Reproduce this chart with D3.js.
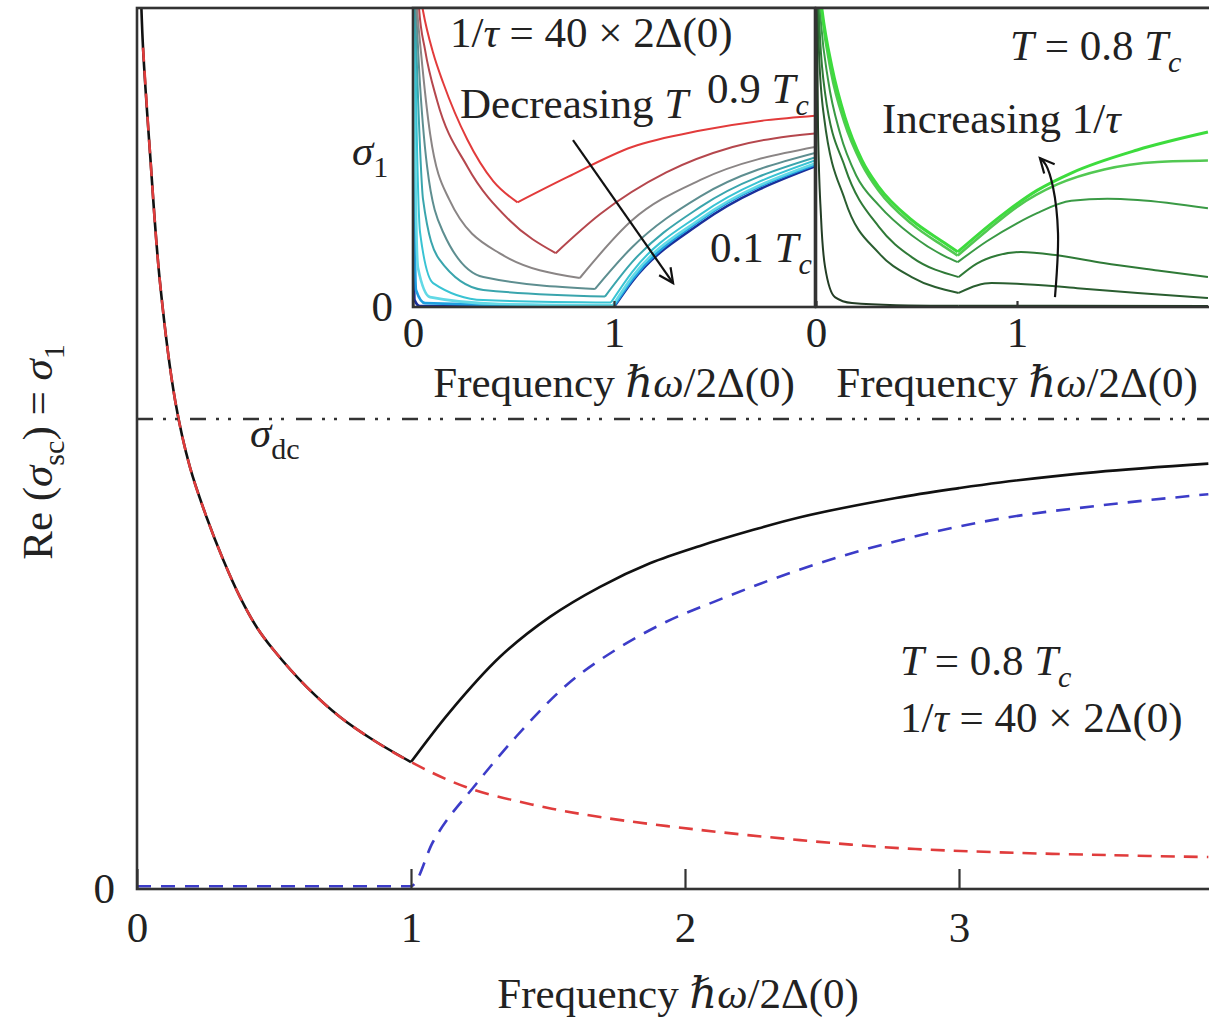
<!DOCTYPE html>
<html>
<head>
<meta charset="utf-8">
<script src="https://cdn.jsdelivr.net/npm/d3@7"></script>
<style>
  html, body { margin: 0; padding: 0; background: #fff; }
  svg { display: block; }
  text { font-family: "Liberation Serif", "DejaVu Serif", serif; fill: #222; }
</style>
</head>
<body>
<svg id="chart" width="1209" height="1021"></svg>
<script>
// ---- main panel: T = 0.8 Tc, 1/tau = 40 x 2Delta(0)  (y in units of sigma_dc)
const mainTicks = [0, 1, 2, 3];
const sigmaDc = 1.0;

const totalLowX = [0.012, 0.022, 0.047, 0.084, 0.139, 0.193, 0.254, 0.315, 0.376, 0.437, 0.498, 0.619, 0.741, 0.862, 1.0];
const totalLowY = [1.95, 1.79, 1.57, 1.29, 1.040, 0.898, 0.791, 0.700, 0.621, 0.557, 0.509, 0.430, 0.366, 0.317, 0.270];
const totalHighX = [1.0, 1.142, 1.325, 1.507, 1.69, 1.872, 2.055, 2.237, 2.42, 2.77, 3.0, 3.15, 3.5, 3.91];
const totalHighY = [0.270, 0.377, 0.494, 0.579, 0.643, 0.693, 0.730, 0.762, 0.791, 0.832, 0.853, 0.865, 0.887, 0.905];

const intraX = [0.022, 0.047, 0.084, 0.139, 0.193, 0.254, 0.315, 0.376, 0.437, 0.498, 0.619, 0.741, 0.862, 1.0, 1.2, 1.44, 1.69, 2.05, 2.42, 2.78, 3.15, 3.55, 3.91];
const intraY = [1.79, 1.57, 1.29, 1.040, 0.898, 0.791, 0.700, 0.621, 0.557, 0.509, 0.430, 0.366, 0.317, 0.270, 0.217, 0.180, 0.153, 0.126, 0.104, 0.087, 0.078, 0.072, 0.068];

const interX = [0, 1.0, 1.08, 1.24, 1.385, 1.57, 1.75, 1.93, 2.11, 2.30, 2.42, 2.77, 3.15, 3.5, 3.91];
const interY = [0.006, 0.006, 0.10, 0.225, 0.325, 0.435, 0.51, 0.568, 0.612, 0.655, 0.68, 0.74, 0.788, 0.815, 0.84];

// ---- left inset: different temperatures
const insetTicks = [0, 1];
const tempLabels = [0.9, 0.8, 0.7, 0.6, 0.5, 0.4, 0.3, 0.2, 0.1];
const tempLowX = [
  [0.035, 0.05, 0.10, 0.15, 0.27, 0.40, 0.52],
  [0.025, 0.03, 0.06, 0.12, 0.27, 0.48, 0.71],
  [0.015, 0.02, 0.04, 0.085, 0.18, 0.43, 0.83],
  [0.01, 0.015, 0.03, 0.07, 0.15, 0.35, 0.905],
  [0.007, 0.01, 0.025, 0.05, 0.13, 0.35, 0.955],
  [0.005, 0.008, 0.018, 0.035, 0.10, 0.35, 0.985],
  [0.004, 0.006, 0.012, 0.025, 0.085, 0.43, 0.995],
  [0.003, 0.004, 0.008, 0.015, 0.06, 1.0],
  [0.001, 0.002, 0.004, 0.008, 0.035, 1.0]
];
const tempLowY = [
  [1.05, 0.99, 0.85, 0.75, 0.56, 0.42, 0.35],
  [1.05, 1.0, 0.86, 0.69, 0.47, 0.29, 0.18],
  [1.05, 1.0, 0.85, 0.58, 0.36, 0.18, 0.097],
  [1.05, 1.0, 0.80, 0.47, 0.25, 0.10, 0.06],
  [1.05, 1.0, 0.70, 0.36, 0.16, 0.057, 0.035],
  [1.05, 1.0, 0.60, 0.25, 0.08, 0.023, 0.015],
  [1.05, 1.0, 0.45, 0.13, 0.033, 0.01, 0.006],
  [1.05, 1.0, 0.30, 0.057, 0.013, 0.003],
  [1.05, 1.0, 0.20, 0.023, 0.003, 0.0]
];
const tempHighX = [
  [0.52, 0.77, 1.09, 1.43, 1.76, 2.0],
  [0.71, 0.93, 1.26, 1.59, 2.0],
  [0.83, 1.09, 1.43, 2.0],
  [0.905, 1.09, 1.43, 2.0],
  [0.955, 1.09, 1.43, 2.0],
  [0.985, 1.09, 1.43, 2.0],
  [0.995, 1.09, 1.43, 2.0],
  [1.0, 1.09, 1.43, 2.0],
  [1.0, 1.09, 1.43, 2.0]
];
const tempHighY = [
  [0.35, 0.435, 0.535, 0.59, 0.625, 0.64],
  [0.18, 0.31, 0.45, 0.535, 0.58],
  [0.097, 0.29, 0.425, 0.535],
  [0.06, 0.20, 0.37, 0.515],
  [0.035, 0.15, 0.335, 0.50],
  [0.015, 0.117, 0.31, 0.49],
  [0.006, 0.10, 0.295, 0.48],
  [0.003, 0.09, 0.29, 0.475],
  [0.0, 0.085, 0.28, 0.47]
];

// ---- right inset: T = 0.8 Tc, different scattering rates
const rateLowX = [
  [0.02, 0.03, 0.079, 0.144, 0.228, 0.313, 0.476, 0.64, 0.705],
  [0.02, 0.03, 0.075, 0.14, 0.228, 0.313, 0.476, 0.64, 0.705],
  [0.015, 0.025, 0.06, 0.12, 0.2, 0.313, 0.476, 0.64, 0.705],
  [0.01, 0.02, 0.045, 0.144, 0.313, 0.476, 0.71],
  [0.008, 0.015, 0.04, 0.144, 0.313, 0.476, 0.71],
  [0.004, 0.01, 0.025, 0.045, 0.094, 0.179, 0.4, 0.71]
];
const rateLowY = [
  [1.05, 0.993, 0.803, 0.635, 0.492, 0.401, 0.291, 0.214, 0.184],
  [1.05, 0.98, 0.785, 0.62, 0.478, 0.388, 0.278, 0.201, 0.172],
  [1.05, 0.95, 0.76, 0.58, 0.44, 0.34, 0.24, 0.17, 0.15],
  [1.05, 0.9, 0.716, 0.468, 0.268, 0.167, 0.10],
  [1.05, 0.85, 0.635, 0.358, 0.18, 0.10, 0.047],
  [1.05, 0.6, 0.3, 0.134, 0.033, 0.013, 0.006, 0.004]
];
const rateHighX = [
  [0.705, 0.938, 1.10, 1.27, 1.598, 1.95],
  [0.705, 0.85, 1.0, 1.2, 1.434, 1.7, 1.95],
  [0.705, 0.85, 1.0, 1.1, 1.27, 1.45, 1.6, 1.95],
  [0.71, 0.8, 0.9, 1.02, 1.2, 1.43, 1.7, 1.95],
  [0.71, 0.8, 0.873, 1.0, 1.3, 1.6, 1.95],
  [0.71, 1.2, 1.95]
];
const rateHighY = [
  [0.184, 0.314, 0.39, 0.448, 0.525, 0.585],
  [0.172, 0.255, 0.335, 0.41, 0.46, 0.485, 0.49],
  [0.15, 0.22, 0.28, 0.314, 0.355, 0.362, 0.358, 0.33],
  [0.10, 0.145, 0.172, 0.184, 0.173, 0.147, 0.122, 0.10],
  [0.047, 0.072, 0.08, 0.078, 0.063, 0.047, 0.03],
  [0.004, 0.004, 0.003]
];

// arrows (inset data coordinates)
const tempArrowX = [0.796, 1.294];
const tempArrowY = [0.558, 0.08];
const rateArrowX = [1.189, 1.204, 1.179, 1.144, 1.114];
const rateArrowY = [0.033, 0.247, 0.401, 0.475, 0.498];

// ---- styles
const tempColors = ['#e23b3b', '#b5474d', '#8a8585', '#5e8e90', '#3aa5ad', '#39c3d3', '#62d9e6', '#1fa0e0', '#1a2f9a'];
const rateColors = ['#3ddc3d', '#52c852', '#3a9a45', '#2f7a37', '#2a5e30', '#233d25'];
const rateWidths = [3, 2.6, 2, 2, 2, 2];
const FS = 43;
const axisColor = '#333';

const svg = d3.select('#chart');
const zip = (xs, ys) => xs.map((x, i) => ({ x, y: ys[i] }));

// scales
const x = d3.scaleLinear([0, 4], [137, 1233]);
const y = d3.scaleLinear([0, 1], [889, 419]);
const xi1 = d3.scaleLinear([0, 2], [413, 815]);
const xi2 = d3.scaleLinear([0, 2], [816, 1218]);
const yi = d3.scaleLinear([0, 1], [307, 8]);

const defs = svg.append('defs');
defs.append('clipPath').attr('id', 'clip-main')
  .append('rect').attr('x', x(0)).attr('y', 8).attr('width', x(4) - x(0)).attr('height', 889 - 8);
defs.append('clipPath').attr('id', 'clip-i1')
  .append('rect').attr('x', xi1(0)).attr('y', yi(1)).attr('width', xi1(2) - xi1(0)).attr('height', yi(0) - yi(1));
defs.append('clipPath').attr('id', 'clip-i2')
  .append('rect').attr('x', xi2(0)).attr('y', yi(1)).attr('width', xi2(2) - xi2(0)).attr('height', yi(0) - yi(1));

// rich text: parts = [[text, italic, sub]]
function rich(g, px, py, parts, { size = FS, anchor = 'start', transform = null } = {}) {
  const t = g.append('text')
    .attr('x', px).attr('y', py)
    .attr('font-size', size)
    .attr('text-anchor', anchor);
  if (transform) t.attr('transform', transform);
  let sub = false;
  parts.forEach(([s, it, isSub]) => {
    const sp = t.append('tspan').text(s).attr('font-style', it ? 'italic' : 'normal');
    if (isSub && !sub) sp.attr('dy', size * 0.28).attr('font-size', size * 0.7);
    else if (!isSub && sub) sp.attr('dy', -size * 0.28);
    else if (isSub) sp.attr('font-size', size * 0.7);
    sub = !!isSub;
  });
  return t;
}

function arrowHead(g, p0, p1, len = 16, spread = 0.45) {
  const ang = Math.atan2(p1[1] - p0[1], p1[0] - p0[0]);
  const a1 = ang + Math.PI - spread, a2 = ang + Math.PI + spread;
  g.append('path')
    .attr('d', `M${p1[0] + len * Math.cos(a1)},${p1[1] + len * Math.sin(a1)}L${p1[0]},${p1[1]}L${p1[0] + len * Math.cos(a2)},${p1[1] + len * Math.sin(a2)}`)
    .attr('fill', 'none').attr('stroke', '#111').attr('stroke-width', 2.2);
}

function styleTicks(axisG) {
  axisG.select('.domain').remove();
  axisG.selectAll('.tick line').attr('stroke', axisColor).attr('stroke-width', 2.2);
  axisG.selectAll('.tick text').attr('font-size', FS).attr('fill', '#222');
  axisG.attr('font-family', null);
}

// ================= main panel =================
const smooth = d3.line().x(d => x(d.x)).y(d => y(d.y)).curve(d3.curveCatmullRom.alpha(0.5));
const mono = d3.line().x(d => x(d.x)).y(d => y(d.y)).curve(d3.curveMonotoneX);
const mainG = svg.append('g').attr('clip-path', 'url(#clip-main)');

mainG.append('path').attr('d', smooth(zip(totalLowX, totalLowY)))
  .attr('fill', 'none').attr('stroke', '#111').attr('stroke-width', 2.6);
mainG.append('path').attr('d', smooth(zip(totalHighX, totalHighY)))
  .attr('fill', 'none').attr('stroke', '#111').attr('stroke-width', 2.6);
mainG.append('path').attr('d', smooth(zip(intraX, intraY)))
  .attr('fill', 'none').attr('stroke', '#e03c3c').attr('stroke-width', 2.6)
  .attr('stroke-dasharray', '14 9');
mainG.append('path').attr('d', mono(zip(interX, interY)))
  .attr('fill', 'none').attr('stroke', '#3c3cc8').attr('stroke-width', 2.6)
  .attr('stroke-dasharray', '14 10');
mainG.append('line')
  .attr('x1', x(0)).attr('x2', x(4)).attr('y1', y(sigmaDc)).attr('y2', y(sigmaDc))
  .attr('stroke', '#333').attr('stroke-width', 2.6)
  .attr('stroke-dasharray', '16 10 3 9 3 12');

// main box + axes
svg.append('rect')
  .attr('x', x(0)).attr('y', 8).attr('width', x(4) - x(0)).attr('height', 889 - 8)
  .attr('fill', 'none').attr('stroke', axisColor).attr('stroke-width', 2.6);

const xAxisG = svg.append('g').attr('transform', `translate(0,${y(0)})`)
  .call(d3.axisBottom(x).tickValues(mainTicks).tickFormat(d3.format('d'))
    .tickSizeInner(-20).tickSizeOuter(0).tickPadding(22));
styleTicks(xAxisG);

const yAxisG = svg.append('g').attr('transform', `translate(${x(0)},0)`)
  .call(d3.axisLeft(y).tickValues([0]).tickFormat(d3.format('d')).tickSize(0).tickPadding(22));
styleTicks(yAxisG);

// main labels
rich(svg, 678, 1008, [['Frequency ', false], ['ℏω', true], ['/2Δ(0)', false]], { anchor: 'middle' });
rich(svg, 0, 0, [['Re (', false], ['σ', true], ['sc', false, true], [') = ', false], ['σ', true], ['1', false, true]],
  { anchor: 'middle', transform: 'translate(52,452) rotate(-90)' });
rich(svg, 250, 447, [['σ', true], ['dc', false, true]]);
rich(svg, 900, 675, [['T', true], [' = 0.8 ', false], ['T', true], ['c', true, true]]);
rich(svg, 900, 732, [['1/', false], ['τ', true], [' = 40 × 2Δ(0)', false]]);

// ================= insets =================
function inset(xs, clipId, lowX, lowY, highX, highY, colors, widths) {
  const g = svg.append('g');
  g.append('rect')
    .attr('x', xs(0)).attr('y', yi(1)).attr('width', xs(2) - xs(0)).attr('height', yi(0) - yi(1))
    .attr('fill', '#fff');
  const line = d3.line().x(d => xs(d.x)).y(d => yi(d.y)).curve(d3.curveMonotoneX);
  const cg = g.append('g').attr('clip-path', `url(#${clipId})`);
  lowX.forEach((lx, i) => {
    const col = colors[i], w = widths[i];
    cg.append('path').attr('d', line(zip(lx, lowY[i])))
      .attr('fill', 'none').attr('stroke', col).attr('stroke-width', w);
    cg.append('path').attr('d', line(zip(highX[i], highY[i])))
      .attr('fill', 'none').attr('stroke', col).attr('stroke-width', w);
  });
  g.append('rect')
    .attr('x', xs(0)).attr('y', yi(1)).attr('width', xs(2) - xs(0)).attr('height', yi(0) - yi(1))
    .attr('fill', 'none').attr('stroke', axisColor).attr('stroke-width', 2.6);
  const ax = g.append('g').attr('transform', `translate(0,${yi(0)})`)
    .call(d3.axisBottom(xs).tickValues(insetTicks).tickFormat(d3.format('d'))
      .tickSizeInner(-6).tickSizeOuter(0).tickPadding(9));
  styleTicks(ax);
  rich(g, (xs(0) + xs(2)) / 2, 397, [['Frequency ', false], ['ℏω', true], ['/2Δ(0)', false]], { anchor: 'middle' });
  return g;
}

// draw high-T last so red sits on top like the original
const order = d3.range(tempLabels.length).reverse();
const g1 = inset(xi1, 'clip-i1',
  order.map(i => tempLowX[i]), order.map(i => tempLowY[i]),
  order.map(i => tempHighX[i]), order.map(i => tempHighY[i]),
  order.map(i => tempColors[i]), order.map(i => (i >= 6 ? 2.6 : 2)));
const rOrder = d3.range(rateColors.length).reverse();
const g2 = inset(xi2, 'clip-i2',
  rOrder.map(i => rateLowX[i]), rOrder.map(i => rateLowY[i]),
  rOrder.map(i => rateHighX[i]), rOrder.map(i => rateHighY[i]),
  rOrder.map(i => rateColors[i]), rOrder.map(i => rateWidths[i]));

// inset y label
const yiAxis = svg.append('g').attr('transform', `translate(${xi1(0)},0)`)
  .call(d3.axisLeft(yi).tickValues([0]).tickFormat(d3.format('d')).tickSize(0).tickPadding(20));
styleTicks(yiAxis);
rich(svg, 352, 165, [['σ', true], ['1', false, true]]);

// inset annotations
rich(g1, 450, 47, [['1/', false], ['τ', true], [' = 40 × 2Δ(0)', false]]);
rich(g1, 707, 103, [['0.9 ', false], ['T', true], ['c', true, true]]);
rich(g1, 460, 118, [['Decreasing ', false], ['T', true]]);
rich(g1, 710, 262, [['0.1 ', false], ['T', true], ['c', true, true]]);
rich(g2, 1010, 60, [['T', true], [' = 0.8 ', false], ['T', true], ['c', true, true]]);
rich(g2, 882, 133, [['Increasing 1/', false], ['τ', true]]);

// arrows
const a1 = zip(tempArrowX, tempArrowY).map(d => [xi1(d.x), yi(d.y)]);
svg.append('line').attr('x1', a1[0][0]).attr('y1', a1[0][1]).attr('x2', a1[1][0]).attr('y2', a1[1][1])
  .attr('stroke', '#111').attr('stroke-width', 2.2);
arrowHead(svg, a1[0], a1[1]);

const a2 = zip(rateArrowX, rateArrowY).map(d => [xi2(d.x), yi(d.y)]);
svg.append('path').attr('d', d3.line().curve(d3.curveCatmullRom)(a2))
  .attr('fill', 'none').attr('stroke', '#111').attr('stroke-width', 2.2);
arrowHead(svg, a2[a2.length - 2], a2[a2.length - 1]);
</script>
</body>
</html>
